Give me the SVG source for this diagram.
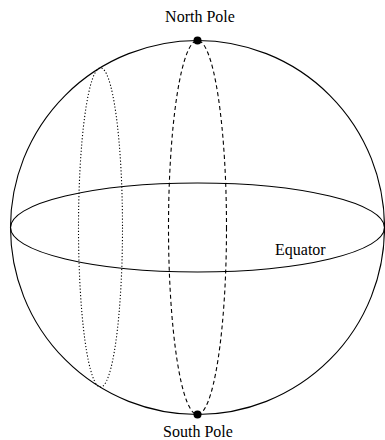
<svg xmlns="http://www.w3.org/2000/svg" width="385" height="440" viewBox="0 0 385 440">
<style>
.l{fill:none;stroke:#000;stroke-width:1.1}
.t{font-family:"Liberation Serif",serif;font-size:16px;fill:#000}
</style>
<rect width="385" height="440" fill="#fff"/>
<g id="sphere"><circle class="l" cx="197.5" cy="227.5" r="187"/></g>
<g id="connectors">
<ellipse id="equator" class="l" cx="197.5" cy="227.5" rx="187" ry="44.5"/>
<ellipse id="meridian" class="l" cx="197.5" cy="227.5" rx="29" ry="187" stroke-dasharray="4,3"/>
<ellipse id="parallel" class="l" cx="100.5" cy="227.5" rx="22" ry="159.6" stroke-dasharray="1.2,2"/>
</g>
<g id="north"><circle cx="197.5" cy="40.5" r="4"/><text class="t" x="200" y="22" text-anchor="middle">North Pole</text></g>
<g id="south"><circle cx="197.5" cy="414.5" r="4"/><text class="t" x="198" y="437" text-anchor="middle">South Pole</text></g>
<g id="eq-label"><text class="t" x="275" y="255">Equator</text></g>
</svg>
